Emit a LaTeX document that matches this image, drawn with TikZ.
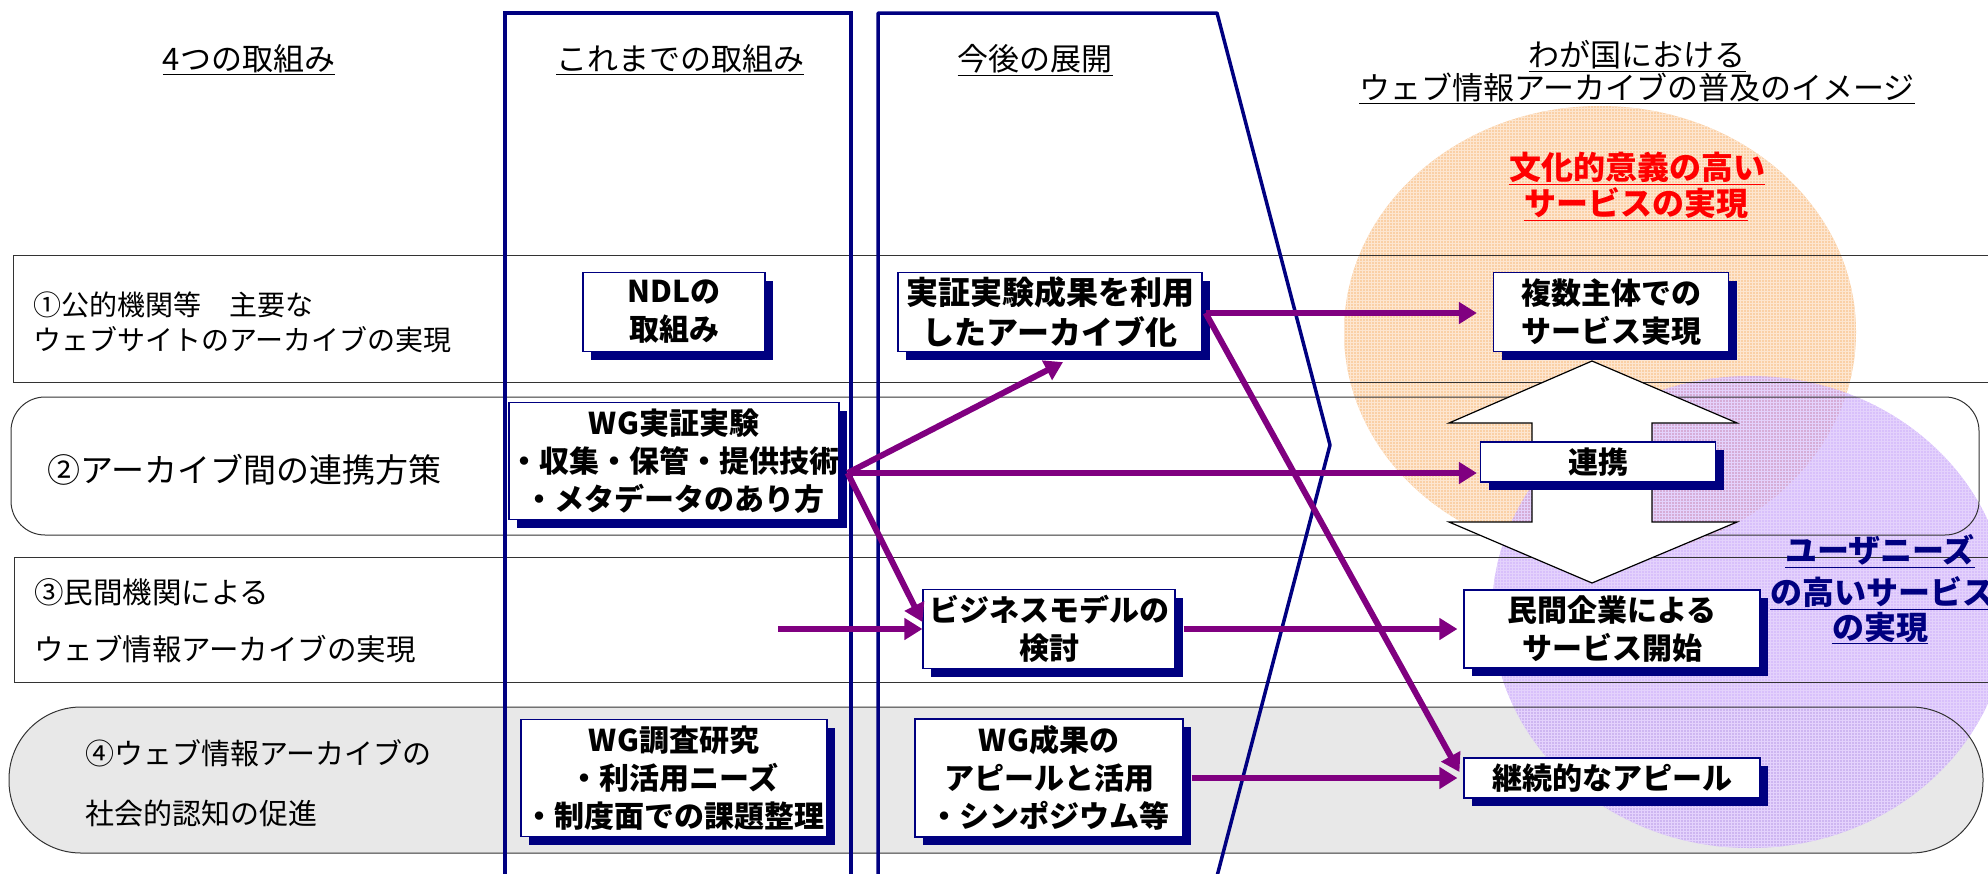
\documentclass[tikz,border=0pt]{standalone}
\usepackage{fontspec}
\setmainfont{Noto Sans CJK JP}
\usepackage{tikz}
\usetikzlibrary{arrows.meta}
\usetikzlibrary{shadows}
\usetikzlibrary{patterns}
\usepackage{xcolor}

\definecolor{navyb}{RGB}{0,0,128}
\definecolor{parrow}{RGB}{128,0,128}
\definecolor{orangefill}{RGB}{250,208,166}
\definecolor{orangegrid}{RGB}{253,230,208}
\definecolor{purplefill}{RGB}{190,150,248}
\definecolor{purplegrid}{RGB}{228,210,252}
\definecolor{lanegray}{RGB}{232,232,232}

\tikzset{
  colframe/.style={draw=navyb, line width=3.5pt},
  lane/.style={draw=black!80, line width=1pt},
  hdr/.style={inner sep=0pt, font=\fontsize{31}{36}\selectfont},
  lbl/.style={inner sep=0pt, anchor=west, align=left},
  tbox/.style={draw=navyb, line width=1.2pt, fill=white, align=center, inner sep=0pt,
    font=\bfseries\fontsize{30}{38}\selectfont,
    drop shadow={shadow xshift=8pt, shadow yshift=-8pt, fill=navyb, opacity=1}},
  parr/.style={draw=parrow, line width=6pt, -{Triangle[length=18pt,width=21pt]}},
  imgtxt/.style={inner sep=0pt, font=\bfseries\fontsize{32}{36}\selectfont},
}

\begin{document}
\begin{tikzpicture}[x=1pt, y=-1pt]
    \useasboundingbox (0,0) rectangle (1988,873);

    \fill[lanegray, rounded corners=72pt] (9,707) rectangle (1983,853);
    \fill[orangefill] (1600,332) ellipse [x radius=256, y radius=226];
    \fill[pattern=grid, pattern color=orangegrid] (1600,332) ellipse [x radius=256, y radius=226];
    \fill[purplefill, fill opacity=0.6] (1750,612) ellipse [x radius=258, y radius=236];
    \fill[pattern=grid, pattern color=purplegrid, fill opacity=0.6] (1750,612) ellipse [x radius=258, y radius=236];

    \draw[lane] (13,255) rectangle (2000,382);
    \draw[lane, rounded corners=34pt] (11,397) rectangle (1979,535);
    \draw[lane] (14,557) rectangle (2000,682);
    \draw[lane, rounded corners=72pt] (9,707) rectangle (1983,853);

    \draw[colframe] (505,880) -- (505,13) -- (851,13) -- (851,880);
    \draw[colframe, line join=round] (878,880) -- (878,13) -- (1217,13) -- (1330,445) -- (1216,880);

    \node[hdr] (hdfour) at (249,60) {\underline{4つの取組み}};
    \node[hdr] (hdpast) at (680,60) {\underline{これまでの取組み}};
    \node[hdr] (hdnext) at (1035,60) {\underline{今後の展開}};
    \node[hdr] (hdimga) at (1637,56) {\underline{わが国における}};
    \node[hdr] (hdimgb) at (1637,88) {\underline{ウェブ情報アーカイブの普及のイメージ}};

    \node[lbl, font=\fontsize{28}{35}\selectfont] (laneone) at (33,322) {①公的機関等　主要な\\ウェブサイトのアーカイブの実現};
    \node[lbl, font=\fontsize{33}{38}\selectfont] (lanetwo) at (47,470) {②アーカイブ間の連携方策};
    \node[lbl, font=\fontsize{29.5}{57}\selectfont] (lanethree) at (34,621) {③民間機関による\\ウェブ情報アーカイブの実現};
    \node[lbl, font=\fontsize{29}{60}\selectfont] (lanefour) at (85,783) {④ウェブ情報アーカイブの\\社会的認知の促進};

    \draw[line width=1.2pt, fill=white] (1592,361) -- (1737,423) -- (1652,423) -- (1652,522) -- (1737,522)
        -- (1592,583) -- (1449,522) -- (1532,522) -- (1532,423) -- (1449,423) -- cycle;

    \node[tbox, minimum width=182pt, minimum height=79pt] (ndl) at (674,312) {NDLの\\取組み};
    \node[tbox, minimum width=304pt, minimum height=79pt, font=\bfseries\fontsize{32}{40}\selectfont] (jissho) at (1050,312) {実証実験成果を利用\\したアーカイブ化};
    \node[tbox, minimum width=306pt, minimum height=117pt] (wgexp) at (674,461) {WG実証実験\\・収集・保管・提供技術\\・メタデータのあり方};
    \node[tbox, minimum width=252pt, minimum height=79pt] (biz) at (1049,629) {ビジネスモデルの\\検討};
    \node[tbox, minimum width=306pt, minimum height=117pt] (wgres) at (674,778) {WG調査研究\\・利活用ニーズ\\・制度面での課題整理};
    \node[tbox, minimum width=268pt, minimum height=118pt] (wgpr) at (1049,778) {WG成果の\\アピールと活用\\・シンポジウム等};
    \node[tbox, minimum width=235pt, minimum height=79pt] (multi) at (1611,312) {複数主体での\\サービス実現};
    \node[tbox, minimum width=235pt, minimum height=40pt] (renkei) at (1598,462) {連携};
    \node[tbox, minimum width=296pt, minimum height=78pt] (minkan) at (1612,629) {民間企業による\\サービス開始};
    \node[tbox, minimum width=296pt, minimum height=40pt] (keizoku) at (1612,778) {継続的なアピール};

    \coordinate (wgout) at ([shift={(8,12)}]wgexp.east);
    \coordinate (jsout) at ([shift={(3,1)}]jissho.east);
    \coordinate (lanein) at (778,629);

    \draw[parr] (wgout) -- ([shift={(13,10)}]jissho.south);
    \draw[parr, shorten >=3pt] (wgout) -- (wgout -| renkei.west);
    \draw[parr] (wgout) -- ([shift={(0,-7)}]biz.west);
    \draw[parr] (lanein) -- (biz.west);
    \draw[parr, shorten >=16pt] (jsout) -- (jsout -| multi.west);
    \draw[parr] (jsout) -- ([shift={(-4,-6)}]keizoku.west);
    \draw[parr, shorten >=6pt] ([xshift=8pt]biz.east) -- (minkan.west);
    \draw[parr, shorten >=6pt] ([xshift=8pt]wgpr.east) -- (keizoku.west);

    \node[imgtxt, text=red] (culta) at (1637,168) {\underline{文化的意義の高い}};
    \node[imgtxt, text=red] (cultb) at (1636,204) {\underline{サービスの実現}};
    \node[imgtxt, text=navyb] (usera) at (1880,551) {\underline{ユーザニーズ}};
    \node[imgtxt, text=navyb] (userb) at (1882,593) {\underline{の高いサービス}};
    \node[imgtxt, text=navyb] (userc) at (1880,628) {\underline{の実現}};
\end{tikzpicture}
\end{document}
